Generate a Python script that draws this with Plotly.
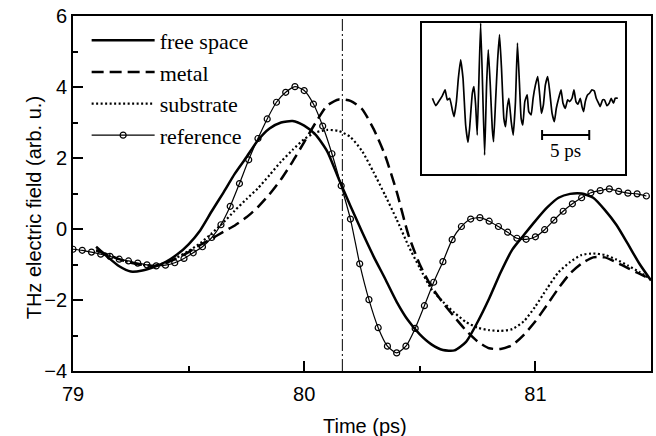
import plotly.graph_objects as go

# ---------------- data ----------------
time_ref = [79.00, 79.04, 79.08, 79.12, 79.16, 79.20, 79.24, 79.28, 79.32, 79.36,
            79.40, 79.44, 79.48, 79.52, 79.56, 79.60, 79.64, 79.68, 79.72, 79.76,
            79.80, 79.84, 79.88, 79.92, 79.96, 80.00, 80.04, 80.08, 80.12, 80.16,
            80.20, 80.24, 80.28, 80.32, 80.36, 80.40, 80.44, 80.48, 80.52, 80.56,
            80.60, 80.64, 80.68, 80.72, 80.76, 80.80, 80.84, 80.88, 80.92, 80.96,
            81.00, 81.04, 81.08, 81.12, 81.16, 81.20, 81.24, 81.28, 81.32, 81.36,
            81.40, 81.44, 81.48]
reference = [-0.57, -0.60, -0.65, -0.71, -0.77, -0.85, -0.90, -0.96, -1.01, -1.04,
             -1.02, -0.95, -0.83, -0.67, -0.50, -0.24, 0.12, 0.64, 1.28, 1.95,
             2.55, 3.10, 3.57, 3.85, 4.01, 3.90, 3.52, 2.90, 2.12, 1.22,
             0.28, -0.98, -1.99, -2.78, -3.30, -3.49, -3.30, -2.80, -2.16, -1.50,
             -0.92, -0.30, 0.07, 0.28, 0.32, 0.22, 0.07, -0.09, -0.26, -0.29,
             -0.22, -0.02, 0.25, 0.50, 0.71, 0.88, 1.02, 1.08, 1.13, 1.06,
             1.01, 0.99, 0.93]

time_lines = [79.10, 79.15, 79.20, 79.25, 79.30, 79.35, 79.40, 79.45, 79.50, 79.55,
              79.60, 79.65, 79.70, 79.75, 79.80, 79.85, 79.90, 79.95, 80.00, 80.05,
              80.10, 80.15, 80.20, 80.25, 80.30, 80.35, 80.40, 80.45, 80.50, 80.55,
              80.60, 80.65, 80.70, 80.75, 80.80, 80.85, 80.90, 80.95, 81.00, 81.05,
              81.10, 81.15, 81.20, 81.25, 81.30, 81.35, 81.40, 81.45, 81.50]
free_space = [-0.50, -0.79, -1.05, -1.20, -1.17, -1.07, -0.93, -0.72, -0.43, -0.04,
              0.50, 1.02, 1.56, 2.02, 2.50, 2.83, 3.00, 3.04, 2.91, 2.65,
              2.18, 1.40, 0.65, -0.08, -0.77, -1.40, -2.05, -2.58, -2.97, -3.25,
              -3.41, -3.42, -3.18, -2.62, -1.96, -1.22, -0.58, -0.17, 0.23, 0.60,
              0.88, 0.99, 1.00, 0.88, 0.54, 0.12, -0.42, -0.98, -1.45]
metal = [-0.60, -0.72, -0.85, -0.95, -1.01, -1.04, -0.96, -0.82, -0.65, -0.45,
         -0.27, -0.08, 0.10, 0.33, 0.62, 0.98, 1.40, 1.90, 2.45, 3.00,
         3.48, 3.65, 3.61, 3.38, 2.82, 2.07, 1.05, -0.15, -1.00, -1.62,
         -2.08, -2.48, -2.86, -3.17, -3.36, -3.38, -3.27, -2.98, -2.60, -2.14,
         -1.67, -1.25, -0.97, -0.80, -0.80, -0.94, -1.10, -1.26, -1.42]
substrate = [-0.60, -0.72, -0.85, -0.95, -1.01, -1.03, -0.95, -0.80, -0.62, -0.40,
             -0.12, 0.18, 0.52, 0.84, 1.15, 1.52, 1.90, 2.23, 2.53, 2.72,
             2.79, 2.76, 2.59, 2.20, 1.60, 0.95, 0.27, -0.46, -1.10, -1.69,
             -2.05, -2.36, -2.62, -2.78, -2.85, -2.87, -2.82, -2.60, -2.18, -1.68,
             -1.22, -0.93, -0.73, -0.69, -0.73, -0.86, -1.03, -1.21, -1.42]

marker_time = 80.165  # vertical dash-dot line (ps)

# inset: full waveform (time in ps, arbitrary field units)
inset_time = [0.00, 0.35, 0.70, 1.06, 1.34, 1.58, 1.83, 2.11, 2.29, 2.54,
              2.75, 2.99, 3.24, 3.52, 3.77, 3.94, 4.23, 4.40, 4.58, 4.75,
              5.11, 5.53, 5.74, 5.92, 6.13, 6.34, 6.48, 6.69, 6.90, 7.11,
              7.32, 7.57, 7.75, 7.92, 8.10, 8.35, 8.56, 8.80, 9.01, 9.23,
              9.40, 9.58, 9.79, 10.04, 10.21, 10.46, 10.67, 10.92, 11.16, 11.37,
              11.55, 11.76, 11.97, 12.22, 12.43, 12.68, 12.92, 13.13, 13.38, 13.63,
              13.84, 14.08, 14.33, 14.54, 14.79, 15.00, 15.21, 15.42, 15.67, 15.85,
              16.02, 16.20, 16.44, 16.65, 16.90, 17.15, 17.36, 17.61, 17.78, 18.03,
              18.24, 18.49, 18.73, 18.94, 19.19, 19.37, 19.65]
inset_field = [0.25, -0.85, -0.15, 0.65, 1.5, 0.0, 0.25, -1.5, -2.5, -0.25,
               3.25, 6.0, 3.25, -3.75, -6.35, -4.25, 1.0, 2.0, -0.75, -5.25,
               11.5, -8.25, 2.25, 7.5, 2.25, -4.25, -6.25, -0.25, 5.75, 9.75,
               4.75, -2.75, -4.0, -1.25, 0.25, -3.25, -5.25, -0.25, 8.5, 2.25,
               -2.75, -3.75, -0.25, 0.75, -1.75, -2.25, 0.25, 2.25, 3.5, 0.75,
               -2.0, -0.75, 2.25, 3.5, 1.25, -2.0, -3.25, -1.25, 0.25, 1.5,
               -0.5, -1.25, 0.0, -0.25, 0.25, 1.5, -0.25, -0.65, 0.25, -1.0,
               -1.75, -0.25, 0.75, 1.0, 1.5, 1.35, 0.25, -0.5, -1.0, 0.0,
               0.0, -0.85, -0.5, 0.25, -0.5, 0.25, 0.25]
window_start, window_end = 2.11, 4.75   # shaded gate in inset (ps)
scale_start, scale_len = 11.62, 5.0     # scale bar (ps)
scale_level, cap_half = -5.25, 0.75
scale_label = "5 ps"

x_title = "Time (ps)"
y_title = "THz electric field (arb. u.)"

# ---------------- figure ----------------
SANS = "Liberation Sans, Arial, sans-serif"
SERIF = "Liberation Serif, Times New Roman, serif"

fig = go.Figure()

fig.add_trace(go.Scatter(x=time_lines, y=free_space, name="free space", mode="lines",
                         line=dict(color="black", width=2.5, shape="spline", smoothing=0.6)))
fig.add_trace(go.Scatter(x=time_lines, y=metal, name="metal", mode="lines",
                         line=dict(color="black", width=2.5, dash="12px,6px",
                                   shape="spline", smoothing=0.6)))
fig.add_trace(go.Scatter(x=time_lines, y=substrate, name="substrate", mode="lines",
                         line=dict(color="black", width=2.2, dash="2px,2.5px",
                                   shape="spline", smoothing=0.6)))
fig.add_trace(go.Scatter(x=time_ref, y=reference, name="reference", mode="lines+markers",
                         line=dict(color="black", width=1.2, shape="spline", smoothing=0.6),
                         marker=dict(symbol="circle-open", size=6, color="black",
                                     line=dict(width=1.2))))

# inset waveform
fig.add_trace(go.Scatter(x=inset_time, y=inset_field, mode="lines", xaxis="x2", yaxis="y2",
                         showlegend=False,
                         line=dict(color="black", width=1.7, shape="spline", smoothing=0.4)))
# scale bar
sb_x = [scale_start, scale_start + scale_len, None,
        scale_start, scale_start, None,
        scale_start + scale_len, scale_start + scale_len]
sb_y = [scale_level, scale_level, None,
        scale_level - cap_half, scale_level + cap_half, None,
        scale_level - cap_half, scale_level + cap_half]
fig.add_trace(go.Scatter(x=sb_x, y=sb_y, mode="lines", xaxis="x2", yaxis="y2",
                         showlegend=False, line=dict(color="black", width=2)))

fig.add_annotation(x=scale_start + scale_len / 2, y=scale_level - 2.3, xref="x2", yref="y2",
                   text=scale_label, showarrow=False,
                   font=dict(family=SERIF, size=19, color="black"))

# axis titles
fig.add_annotation(x=0.506, y=-0.155, xref="paper", yref="paper", text=x_title,
                   showarrow=False, xanchor="center", yanchor="middle",
                   font=dict(family=SANS, size=20, color="black"))
fig.add_annotation(x=-0.067, y=0.459, xref="paper", yref="paper", text=y_title,
                   showarrow=False, xanchor="center", yanchor="middle", textangle=-90,
                   font=dict(family=SANS, size=20, color="black"))

# shaded gate window in inset
fig.add_shape(type="rect", xref="x2", yref="y2 domain", x0=window_start, x1=window_end,
              y0=0, y1=1, fillcolor="#e4e4e4", line=dict(width=0), layer="below")

# vertical dash-dot marker
fig.add_shape(type="line", xref="x", yref="y domain", x0=marker_time, x1=marker_time,
              y0=0, y1=1, line=dict(color="black", width=1, dash="12px,3px,2px,3px"))

axis_common = dict(showgrid=False, zeroline=False, showline=True, mirror=True,
                   linecolor="black", linewidth=1.8, ticks="inside", ticklen=10,
                   tickwidth=1.5, tickcolor="black",
                   tickfont=dict(family=SANS, size=20, color="black"))

fig.update_layout(
    width=656, height=436,
    margin=dict(l=73, r=3, t=16, b=65),
    paper_bgcolor="white", plot_bgcolor="white",
    xaxis=dict(range=[79, 81.5], tickvals=[79, 80, 81], ticktext=["79", "80", "81"],
               minor=dict(tickvals=[79.5, 80.5], ticks="inside", ticklen=5,
                          tickwidth=1.5, tickcolor="black"),
               ticklabelstandoff=4,
               **axis_common),
    yaxis=dict(range=[-4, 6], tickvals=[-4, -2, 0, 2, 4, 6],
               minor=dict(tickvals=[-3, -1, 1, 3, 5], ticks="inside", ticklen=5,
                          tickwidth=1.5, tickcolor="black"),
               **axis_common),
    xaxis2=dict(domain=[0.6034, 0.9552], anchor="y2", range=[-1.13, 20.42],
                showgrid=False, zeroline=False, showticklabels=False, ticks="",
                showline=True, mirror=True, linecolor="black", linewidth=1.5),
    yaxis2=dict(domain=[0.5563, 0.9803], anchor="x2", range=[-11, 11.5],
                showgrid=False, zeroline=False, showticklabels=False, ticks="",
                showline=True, mirror=True, linecolor="black", linewidth=1.5),
    legend=dict(x=0.0236, y=0.99, xanchor="left", yanchor="top", bgcolor="rgba(0,0,0,0)",
                itemwidth=63, font=dict(family=SERIF, size=22, color="black"),
                tracegroupgap=0),
    showlegend=True,
)

fig.write_html("out.html")
